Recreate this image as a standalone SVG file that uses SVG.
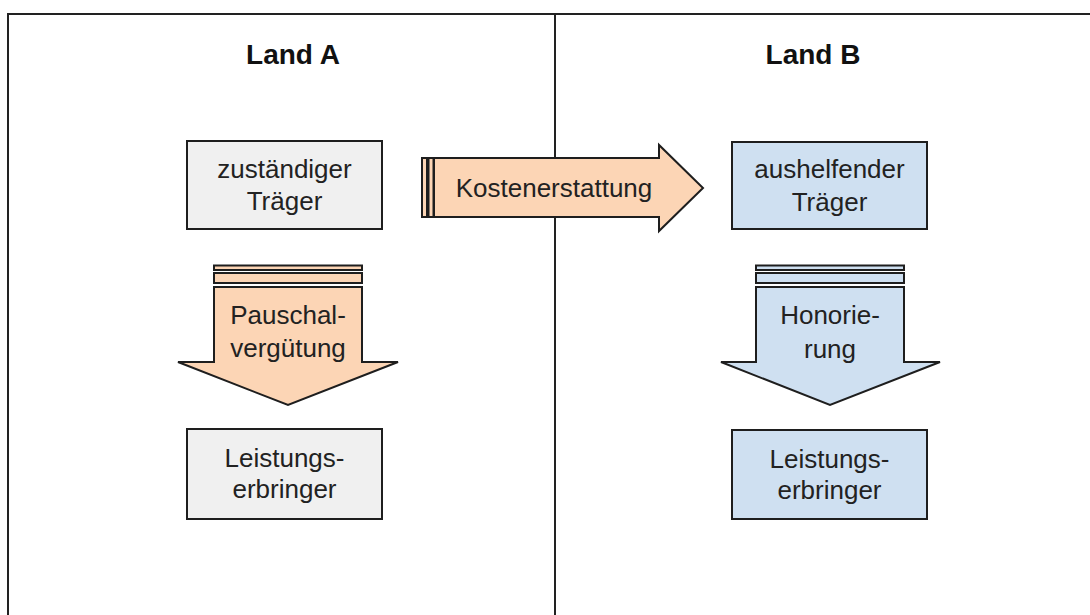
<svg xmlns="http://www.w3.org/2000/svg" width="1090" height="615" viewBox="0 0 1090 615">
<style>
.frame{fill:none;stroke:#222;stroke-width:2}
.box{stroke:#1e1e1e;stroke-width:2}
.gray{fill:#f0f0f0}
.peach{fill:#fcd5b5}
.blue{fill:#cfe0f1}
.arr{stroke:#1e1e1e;stroke-width:2;stroke-linejoin:miter}
.t{font-family:"Liberation Sans",Arial,sans-serif;font-size:26px;fill:#222;text-anchor:middle}
.h{font-family:"Liberation Sans",Arial,sans-serif;font-size:28px;font-weight:bold;fill:#111;text-anchor:middle}
</style>
<rect width="1090" height="615" fill="#fff"/>
<g id="frame">
<path class="frame" d="M8,616 V14 H1091"/>
<line class="frame" x1="555" y1="14" x2="555" y2="616"/>
<text class="h" x="293" y="64">Land A</text>
<text class="h" x="813" y="64">Land B</text>
</g>
<g id="connectors">
<g id="kostenerstattung">
<rect class="arr peach" x="422" y="158" width="5" height="59"/>
<rect class="arr peach" x="428.5" y="158" width="5" height="59"/>
<path class="arr peach" d="M434,158 H659 V145 L703,188 L659,231 V217 H434 Z"/>
<text class="t" x="554" y="197">Kostenerstattung</text>
</g>
<g id="pauschal">
<rect class="arr peach" x="214" y="265.5" width="148" height="4.5"/>
<rect class="arr peach" x="214" y="273" width="148" height="10"/>
<path class="arr peach" d="M214,287 H362 V362 H398 L288,405 L178,362 H214 Z"/>
<text class="t" x="288" y="324">Pauschal-</text>
<text class="t" x="288" y="357">vergütung</text>
</g>
<g id="honorierung">
<rect class="arr blue" x="756" y="265.5" width="148" height="4.5"/>
<rect class="arr blue" x="756" y="273" width="148" height="10"/>
<path class="arr blue" d="M756,287 H904 V362 H940 L830,405 L721,362 H756 Z"/>
<text class="t" x="830" y="324">Honorie-</text>
<text class="t" x="830" y="358">rung</text>
</g>
</g>
<g id="zustaendiger">
<rect class="box gray" x="187" y="141" width="195" height="88"/>
<text class="t" x="284.5" y="178">zuständiger</text>
<text class="t" x="284.5" y="210">Träger</text>
</g>
<g id="aushelfender">
<rect class="box blue" x="732" y="142" width="195" height="87"/>
<text class="t" x="829.5" y="178">aushelfender</text>
<text class="t" x="829.5" y="211">Träger</text>
</g>
<g id="leistungA">
<rect class="box gray" x="187" y="429" width="195" height="90"/>
<text class="t" x="284.5" y="467">Leistungs-</text>
<text class="t" x="284.5" y="498">erbringer</text>
</g>
<g id="leistungB">
<rect class="box blue" x="732" y="430" width="195" height="89"/>
<text class="t" x="829.5" y="468">Leistungs-</text>
<text class="t" x="829.5" y="499">erbringer</text>
</g>
</svg>
